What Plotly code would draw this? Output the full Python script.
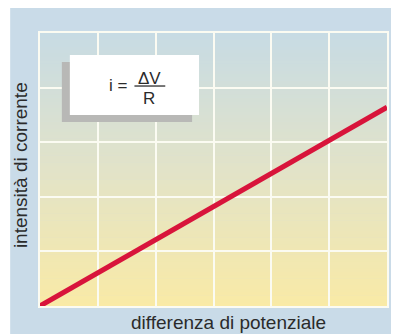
import plotly.graph_objects as go

# Ohm's law: current grows linearly with the potential difference
potential = [0, 6]
current = [0, 3.64]

x_ticks = [0, 1, 2, 3, 4, 5, 6]
y_ticks = [0, 1, 2, 3, 4, 5]

W, H = 393, 334
L, R, T, B = 40, 4, 33, 28
pw, ph = W - L - R, H - T - B


def px_x(px):
    return (px - L) / pw


def px_y(py):
    return (H - B - py) / ph


def mix(c1, c2, t):
    return "rgb(%d,%d,%d)" % tuple(round(a + (b - a) * t) for a, b in zip(c1, c2))


top_c = (199, 219, 228)
mid_c = (226, 227, 200)
bot_c = (249, 234, 166)

shapes = [
    # light blue panel behind the whole chart
    dict(type="rect", xref="paper", yref="paper",
         x0=px_x(10), x1=px_x(393), y0=px_y(334), y1=px_y(8),
         fillcolor="#c9dbe8", line=dict(width=0), layer="below"),
]

# vertical gradient of the plotting area (yellow at bottom, blue at top)
n = 80
for k in range(n):
    t = (k + 0.5) / n  # 0 bottom -> 1 top
    if t < 0.5:
        col = mix(bot_c, mid_c, t / 0.5)
    else:
        col = mix(mid_c, top_c, (t - 0.5) / 0.5)
    shapes.append(dict(type="rect", xref="x", yref="y",
                       x0=0, x1=6, y0=5 * k / n, y1=5 * (k + 1) / n + 0.01,
                       fillcolor=col, line=dict(width=0), layer="below"))

# formula card with its shadow
shapes += [
    dict(type="rect", xref="x", yref="y", x0=0.378, x1=2.63, y0=3.37, y1=4.47,
         fillcolor="#b8b8b6", line=dict(width=0), layer="above"),
    dict(type="rect", xref="x", yref="y", x0=0.516, x1=2.75, y0=3.498, y1=4.597,
         fillcolor="#ffffff", line=dict(width=0), layer="above"),
    dict(type="line", xref="x", yref="y", x0=1.633, x1=2.166, y0=4.029, y1=4.029,
         line=dict(color="#555555", width=1.6), layer="above"),
]

txt_font = dict(family="Liberation Sans, Arial, sans-serif", size=19, color="#2b2b2b")
f_font = dict(family="Liberation Sans, Arial, sans-serif", size=17, color="#2b2b2b")

centered = dict(showarrow=False, xanchor="center", yanchor="middle")

annotations = [
    dict(text="i =", x=px_x(119), y=px_y(85), font=f_font, **centered),
    dict(text="ΔV", x=px_x(150.5), y=px_y(78), font=f_font, **centered),
    dict(text="R", x=px_x(150), y=px_y(98), font=f_font, **centered),
    dict(text="differenza di potenziale", x=px_x(230), y=px_y(322),
         font=txt_font, **centered),
    dict(text="intensità di corrente", x=px_x(21), y=px_y(165), textangle=-90,
         font=txt_font, **centered),
]
for a in annotations:
    a.update(xref="paper", yref="paper")

fig = go.Figure(go.Scatter(
    x=potential, y=current, mode="lines",
    line=dict(color="#d8143b", width=5), hoverinfo="skip",
))

axis_common = dict(showticklabels=False, ticks="", showgrid=True,
                   gridcolor="#fbfbf2", gridwidth=2, zeroline=False,
                   showline=True, mirror=True, linecolor="#fbfbf2", linewidth=2)

fig.update_layout(
    width=W, height=H,
    margin=dict(l=L, r=R, t=T, b=B),
    paper_bgcolor="white", plot_bgcolor="rgba(0,0,0,0)",
    showlegend=False,
    xaxis=dict(range=[0, 6], tickvals=x_ticks, **axis_common),
    yaxis=dict(range=[0, 5], tickvals=y_ticks, **axis_common),
    shapes=shapes, annotations=annotations,
)

fig.write_html("out.html")
